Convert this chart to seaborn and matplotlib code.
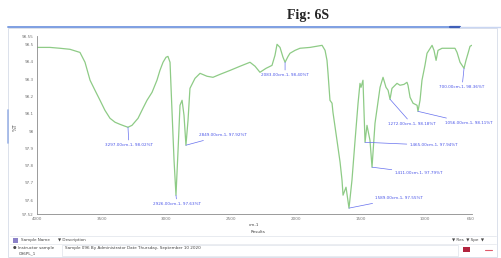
import numpy as np
import matplotlib
matplotlib.use("Agg")
import matplotlib.pyplot as plt
import seaborn as sns
from matplotlib.lines import Line2D
from matplotlib.patches import Rectangle

# FTIR spectrum (wavenumber cm-1, %T)
wn = [4000, 3900, 3822, 3745, 3668, 3629, 3590, 3552, 3513, 3475, 3436, 3397,
      3359, 3320, 3297, 3266, 3219, 3181, 3150, 3111, 3073, 3050, 3026, 3003,
      2988, 2972, 2957, 2941, 2926, 2910, 2895, 2879, 2864, 2849, 2833, 2818,
      2779, 2740, 2686, 2640, 2586, 2508, 2431, 2354, 2315, 2277, 2230, 2184,
      2161, 2145, 2122, 2099, 2083, 2060, 2045, 2006, 1968, 1890, 1797, 1774,
      1759, 1751, 1736, 1720, 1713, 1682, 1658, 1643, 1635, 1612, 1589, 1566,
      1542, 1519, 1504, 1496, 1481, 1465, 1450, 1427, 1411, 1388, 1349, 1326,
      1303, 1287, 1272, 1257, 1218, 1195, 1164, 1141, 1133, 1117, 1094, 1063,
      1056, 1040, 1025, 1002, 986, 947, 932, 916, 901, 870, 832, 770, 754, 731,
      700, 685, 669, 654, 641]
trans = [98.484, 98.484, 98.479, 98.473, 98.455, 98.398, 98.294, 98.236, 98.178,
         98.120, 98.074, 98.051, 98.039, 98.028, 98.022, 98.033, 98.074, 98.132,
         98.178, 98.224, 98.294, 98.351, 98.398, 98.427, 98.432, 98.398, 98.120,
         97.831, 97.629, 97.889, 98.149, 98.178, 98.091, 97.918, 98.062, 98.247,
         98.305, 98.334, 98.317, 98.311, 98.328, 98.351, 98.375, 98.398, 98.375,
         98.340, 98.363, 98.380, 98.438, 98.502, 98.484, 98.427, 98.398, 98.432,
         98.450, 98.467, 98.479, 98.484, 98.496, 98.467, 98.409, 98.334, 98.178,
         98.161, 98.109, 97.947, 97.820, 97.716, 97.629, 97.675, 97.554, 97.716,
         97.947, 98.161, 98.276, 98.253, 98.294, 97.935, 98.033, 97.947, 97.791,
         98.045, 98.253, 98.311, 98.253, 98.236, 98.184, 98.247, 98.276, 98.265,
         98.270, 98.282, 98.265, 98.195, 98.161, 98.149, 98.114, 98.178, 98.294,
         98.380, 98.450, 98.496, 98.467, 98.409, 98.467, 98.479, 98.479, 98.479,
         98.455, 98.398, 98.363, 98.409, 98.450, 98.490, 98.496]

# labelled peaks
peak_wn = [3297, 2926, 2849, 2083, 1589, 1465, 1411, 1272, 1056, 700]
# label offsets in pixels (dx, dy, ha)
peak_off = [(1, -18, "center"), (1, -9, "center"), (13, 10, "left"),
            (0, -13, "center"), (26, 10, "left"), (45, -3, "left"),
            (23, -6, "left"), (22, -25, "center"), (27, -12, "left"),
            (-2, -19, "center")]

xticks = [4000, 3500, 3000, 2500, 2000, 1500, 1000, 650]
yticks = [97.52, 97.6, 97.7, 97.8, 97.9, 98.0, 98.1, 98.2, 98.3, 98.4, 98.5, 98.55]

W, H = 501, 258
sns.set_style("white")
plt.rcParams["font.family"] = ["DejaVu Sans"]

fig = plt.figure(figsize=(W / 100, H / 100), dpi=100)


def fx(px):
    return px / W


def fy(py):
    return 1 - py / H


ax = fig.add_axes([fx(37), fy(214), fx(471.8) - fx(37), fy(36) - fy(214)])

sns.lineplot(x=wn, y=trans, ax=ax, color="#8ecb86", lw=0.9, estimator=None, sort=False)

ax.set_xlim(4000, 640)
ax.set_ylim(97.52, 98.55)
ax.set_xticks(xticks)
ax.set_xticklabels([str(v) for v in xticks], fontsize=3, color="#555555")
ax.set_yticks(yticks)
ax.set_yticklabels([f"{v:.2f}".rstrip("0").rstrip(".") if v not in (97.52, 98.55) else f"{v:.2f}"
                    for v in yticks], fontsize=3, color="#555555")
ax.tick_params(axis="both", length=1.5, width=0.4, pad=1, colors="#777777")
ax.set_xlabel("cm-1", fontsize=3, color="#444444", labelpad=1)
ax.set_ylabel("")
for side in ["top", "right"]:
    ax.spines[side].set_visible(False)
for side in ["left", "bottom"]:
    ax.spines[side].set_color("#8a8a8a")
    ax.spines[side].set_linewidth(0.6)
ax.set_facecolor("white")

lookup = dict(zip(wn, trans))
blue = "#4a55e8"
for w, (dx, dy, ha) in zip(peak_wn, peak_off):
    v = lookup[w]
    ax.annotate(f"{w:.2f}cm-1, {v:.2f}%T", xy=(w, v), xytext=(dx, dy),
                textcoords="offset pixels", ha=ha, va="center", fontsize=3, color=blue,
                arrowprops=dict(arrowstyle="-", color="#6670ee", lw=0.5,
                                shrinkA=0, shrinkB=0))

# window decoration
fig.text(fx(308), fy(16), "Fig: 6S", fontsize=10, fontweight="bold",
         family=["Liberation Serif", "DejaVu Serif"], ha="center", va="center")
fig.add_artist(Line2D([fx(8), fx(460)], [fy(27), fy(27)], color="#7e9fe2", lw=1.4))
fig.add_artist(Line2D([fx(450), fx(460)], [fy(27), fy(27)], color="#3f5fb8", lw=1.6))
fig.add_artist(Line2D([fx(460), fx(501)], [fy(27), fy(27)], color="#c9d6f2", lw=1.0))
fig.add_artist(Rectangle((fx(8), fy(257)), fx(497) - fx(8), fy(28) - fy(257),
                         fill=False, ec="#d6dce8", lw=0.6))
fig.add_artist(Line2D([fx(8), fx(8)], [fy(110), fy(143)], color="#9db4e6", lw=1.2))
fig.text(fx(15), fy(127), "%T", fontsize=3.5, rotation=90, ha="center", va="center",
         color="#444444")

fig.text(fx(258), fy(232), "Results", fontsize=3, ha="center", va="center", color="#444444")
fig.add_artist(Line2D([fx(10), fx(496)], [fy(236), fy(236)], color="#dfe3ea", lw=0.5))
fig.add_artist(Rectangle((fx(13), fy(243)), fx(5), fy(238) - fy(243), fc="#8c82c8", ec="none"))
fig.text(fx(21), fy(240.5), "Sample Name", fontsize=3, va="center", color="#444444")
fig.text(fx(58), fy(240.5), "\u25bc Description", fontsize=3, va="center", color="#444444")
fig.text(fx(452), fy(240.5), "\u25bc Res  \u25bc Spe  \u25bc", fontsize=3, va="center",
         color="#444444")
fig.add_artist(Line2D([fx(10), fx(496)], [fy(244), fy(244)], color="#e3e6ec", lw=0.5))
fig.text(fx(13), fy(248), "\u25cf Instructor sample", fontsize=3, va="center", color="#444444")
fig.text(fx(19), fy(253), "096PL_1", fontsize=3, va="center", color="#444444")
fig.add_artist(Rectangle((fx(62), fy(256)), fx(458) - fx(62), fy(245) - fy(256),
                         fill=False, ec="#dfe3ea", lw=0.5))
fig.text(fx(65), fy(248), "Sample 096 By Administrator Date Thursday, September 10 2020",
         fontsize=3, va="center", color="#444444")
fig.add_artist(Rectangle((fx(463), fy(252)), fx(7), fy(247) - fy(252), fc="#b2243e", ec="none"))
fig.add_artist(Line2D([fx(485), fx(492)], [fy(249.5), fy(249.5)], color="#e05a6a", lw=0.8))

fig.savefig("out.png", dpi=100)
